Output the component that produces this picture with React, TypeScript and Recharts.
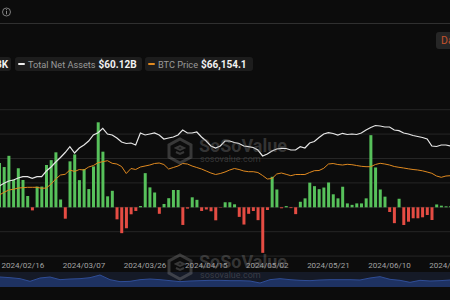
import React from 'react';
import {
  ComposedChart, Bar, Line, Cell, XAxis, YAxis, CartesianGrid,
  AreaChart, Area
} from 'recharts';

// trading days, 2024
const dates = [
  '02/09', '02/12', '02/13', '02/14', '02/15', '02/16', '02/20', '02/21', '02/22', '02/23',
  '02/26', '02/27', '02/28', '02/29', '03/01', '03/04', '03/05', '03/06', '03/07', '03/08',
  '03/11', '03/12', '03/13', '03/14', '03/15', '03/18', '03/19', '03/20', '03/21', '03/22',
  '03/25', '03/26', '03/27', '03/28', '04/01', '04/02', '04/03', '04/04', '04/05', '04/08',
  '04/09', '04/10', '04/11', '04/12', '04/15', '04/16', '04/17', '04/18', '04/19', '04/22',
  '04/23', '04/24', '04/25', '04/26', '04/29', '04/30', '05/01', '05/02', '05/03', '05/06',
  '05/07', '05/08', '05/09', '05/10', '05/13', '05/14', '05/15', '05/16', '05/17', '05/20',
  '05/21', '05/22', '05/23', '05/24', '05/28', '05/29', '05/30', '05/31', '06/03', '06/04',
  '06/05', '06/06', '06/07', '06/10', '06/11', '06/12', '06/13', '06/14', '06/17', '06/18',
  '06/20', '06/21', '06/24', '06/25', '06/26', '06/27', '06/28',
];

// daily total net inflow, $M
const netInflow = [
  545, 495, 633, 340, 480, 336, 139, -38, 255, 255,
  520, 580, 676, 95, -140, 565, 650, 334, 470, 224,
  503, 1045, 684, 135, 203, -148, -318, -258, -86, -45,
  16, 420, 245, 182, -80, 41, 112, 213, 213, -217,
  -16, 123, 92, -45, -27, -49, -160, -4, 62, 62,
  37, -118, -212, -80, -47, -158, -560, -33, 375, 219,
  -12, 15, -10, -84, 68, 110, 303, 260, 223, 243,
  305, 160, 110, 253, 48, 30, 48, 48, 110, 887,
  490, 219, 131, -58, -195, 105, -218, -177, -135, -135,
  -123, -95, -156, 35, 20, 12, 15,
];

// total net assets, $B
const totalNetAssets = [
  37.77, 38.84, 39.75, 40.15, 40.94, 41.45, 41.45, 40.82, 41.45, 41.45,
  43.71, 45.3, 47.28, 49.06, 51.04, 53.34, 50.84, 52.83, 54.01, 55.6,
  57.98, 58.89, 60.63, 58.37, 57.98, 56.79, 55.2, 54.61, 54.81, 54.01,
  58.77, 57.98, 58.37, 58.77, 57.98, 56.39, 56.79, 57.18, 57.98, 59.96,
  58.77, 58.77, 59.16, 57.18, 55.6, 53.62, 52.83, 53.62, 55.6, 55.6,
  55.0, 54.61, 53.62, 53.34, 53.02, 52.03, 49.66, 50.45, 51.64, 52.43,
  52.71, 52.63, 52.03, 52.03, 53.34, 52.83, 54.81, 55.4, 56.99, 58.37,
  58.89, 58.57, 57.98, 58.65, 58.17, 58.37, 58.17, 58.77, 59.96, 60.95,
  61.74, 61.54, 61.15, 61.15, 59.96, 59.68, 58.77, 58.37, 57.78, 57.38,
  56.99, 56.39, 53.62, 53.42, 54.01, 54.01, 53.62,
];

// BTC price, USD
const btcPrice = [
  47403, 49321, 50955, 51452, 52376, 52589, 52873, 52873, 52873, 52163,
  52376, 55217, 58769, 61611, 62108, 65163, 64097, 65518, 65163, 67294,
  68360, 70349, 71059, 71770, 69923, 69425, 67649, 62676, 66228, 65518,
  67294, 68004, 68715, 69780, 70136, 69070, 65873, 66939, 68004, 69780,
  69425, 68004, 66939, 65873, 64452, 63032, 61966, 62676, 63742, 65163,
  66228, 65518, 64452, 63955, 63955, 63387, 61256, 58769, 59124, 62321,
  63032, 62108, 61114, 61966, 61966, 61966, 63387, 64666, 64808, 66371,
  69425, 69780, 69070, 68715, 69212, 68928, 68360, 67791, 67507, 67507,
  69070, 69923, 69425, 68715, 67649, 67081, 66584, 66015, 65518, 65163,
  64595, 63742, 62819, 60900, 59977, 60900, 61114,
];

const tickDates = [
  '2024/02/16', '2024/03/07', '2024/03/26', '2024/04/15',
  '2024/05/02', '2024/05/21', '2024/06/10', '2024/06/28',
];

// range selector preview (relative height)
const navigatorValues = [
  30, 28, 25, 17, 27, 30, 22, 24, 25, 28,
  36, 22, 16, 17, 22, 24, 22, 19, 16, 18,
  19, 20, 20, 19, 19, 18, 12, 22, 25, 22,
  20, 19, 21, 22, 22, 22, 21, 27, 31, 23,
  20, 14, 20, 18, 19, 21,
];

const GREEN = '#57c15b';
const RED = '#e54c43';
const FONT = 'Roboto, "Noto Sans", sans-serif';

const data = dates.map((d, i) => ({
  date: '2024/' + d,
  inflow: netInflow[i],
  assets: totalNetAssets[i],
  price: btcPrice[i],
}));

const navData = navigatorValues.map((v, i) => ({ i, v }));

const chip: React.CSSProperties = {
  position: 'absolute', top: 57, height: 14, background: '#1d1d1d', borderRadius: 3,
  display: 'flex', alignItems: 'center', whiteSpace: 'nowrap', boxSizing: 'border-box',
};

const Watermark = ({ top }: { top: number }) => (
  <div style={{ position: 'absolute', left: 167, top, width: 130, height: 30, pointerEvents: 'none' }}>
    <svg width={26} height={28} style={{ position: 'absolute', left: 0, top: 0 }}>
      <polygon points="13,2 24,8 24,20 13,26 2,20 2,8" fill="none" stroke="rgba(140,140,140,0.35)" strokeWidth={3} />
      <path d="M9,11 L13,9 L17,11 L13,13 Z M9,15 L13,17 L17,15" fill="none" stroke="rgba(140,140,140,0.35)" strokeWidth={2} />
    </svg>
    <div style={{ position: 'absolute', left: 32, top: 0, fontFamily: FONT, fontWeight: 700, fontSize: 18, lineHeight: '18px', color: 'rgba(140,140,140,0.33)' }}>
      SoSoValue
    </div>
    <div style={{ position: 'absolute', left: 33, top: 17, fontFamily: FONT, fontSize: 9, color: 'rgba(140,140,140,0.33)' }}>
      sosovalue.com
    </div>
  </div>
);

export default function App() {
  return (
    <div style={{ position: 'absolute', left: 0, top: 0, width: 450, height: 300, overflow: 'hidden', background: '#0c0c0c', fontFamily: FONT }}>
      {/* header */}
      <svg width={14} height={14} style={{ position: 'absolute', left: 0, top: 5 }}>
        <circle cx={6.5} cy={7} r={4} fill="none" stroke="#8a8a8a" strokeWidth={0.9} />
        <line x1={6.5} y1={6} x2={6.5} y2={9.3} stroke="#8a8a8a" strokeWidth={1} />
        <circle cx={6.5} cy={4.7} r={0.6} fill="#8a8a8a" />
      </svg>
      <div style={{ position: 'absolute', left: 0, top: 23, width: 450, height: 1, background: '#303030' }} />
      <div style={{ position: 'absolute', left: 436, top: 32, width: 40, height: 17, background: '#262626', borderRadius: 3, color: '#c4522d', fontSize: 10.5, lineHeight: '17px', paddingLeft: 5, boxSizing: 'border-box' }}>
        Daily
      </div>

      {/* legend */}
      <div style={{ ...chip, left: -8, width: 19, paddingLeft: 4 }}>
        <span style={{ color: '#f2f2f2', fontWeight: 700, fontSize: 10 }}>3K</span>
      </div>
      <div style={{ ...chip, left: 15, width: 127, paddingLeft: 3 }}>
        <span style={{ width: 7, height: 2.5, borderRadius: 1, background: '#eeeeee', marginRight: 3 }} />
        <span style={{ color: '#9a9a9a', fontSize: 9.2 }}>Total Net Assets</span>
        <span style={{ color: '#f2f2f2', fontWeight: 700, fontSize: 10, marginLeft: 3 }}>$60.12B</span>
      </div>
      <div style={{ ...chip, left: 145, width: 108, paddingLeft: 3 }}>
        <span style={{ width: 7, height: 2.5, borderRadius: 1, background: '#e0891f', marginRight: 3 }} />
        <span style={{ color: '#9a9a9a', fontSize: 9.2 }}>BTC Price</span>
        <span style={{ color: '#f2f2f2', fontWeight: 700, fontSize: 10, marginLeft: 3 }}>$66,154.1</span>
      </div>

      {/* navigator */}
      <div style={{ position: 'absolute', left: 0, top: 272, width: 450, height: 15, background: '#151a27' }}>
        <AreaChart width={450} height={15} data={navData} margin={{ top: 0, right: 0, bottom: 0, left: 0 }}>
          <XAxis dataKey="i" hide />
          <YAxis hide domain={[0, 45]} />
          <Area type="linear" dataKey="v" stroke="#2f4d96" strokeWidth={1} fill="#1e3262" fillOpacity={1} isAnimationActive={false} />
        </AreaChart>
      </div>

      {/* main chart */}
      <div style={{ position: 'absolute', left: -3.2, top: 100 }}>
        <ComposedChart width={456} height={180} data={data} margin={{ top: 9.7, right: 0, bottom: 0, left: 0 }}>
          <CartesianGrid yAxisId="flow" vertical={false} stroke="#262626" />
          <XAxis
            dataKey="date"
            interval={0}
            height={23.9}
            axisLine={false}
            tickLine={false}
            tickSize={4}
            tickMargin={2}
            tick={{ fill: '#a3a3a3', fontSize: 8, fontFamily: FONT }}
            tickFormatter={(v: string) => (tickDates.includes(v) ? v : '')}
          />
          <YAxis yAxisId="flow" hide domain={[-600, 1200]} ticks={[-600, -300, 0, 300, 600, 900, 1200]} />
          <YAxis yAxisId="assets" hide domain={[10, 68]} />
          <YAxis yAxisId="price" hide domain={[4000, 108000]} />
          <Bar yAxisId="flow" dataKey="inflow" barSize={3} isAnimationActive={false}>
            {data.map((d, i) => (
              <Cell key={i} fill={d.inflow >= 0 ? GREEN : RED} />
            ))}
          </Bar>
          <Line yAxisId="price" dataKey="price" type="linear" stroke="#e0891f" strokeWidth={1} dot={false} isAnimationActive={false} />
          <Line yAxisId="assets" dataKey="assets" type="linear" stroke="#e6e6e6" strokeWidth={1.2} dot={false} isAnimationActive={false} />
        </ComposedChart>
      </div>

      <Watermark top={137} />
      <Watermark top={253} />
    </div>
  );
}
